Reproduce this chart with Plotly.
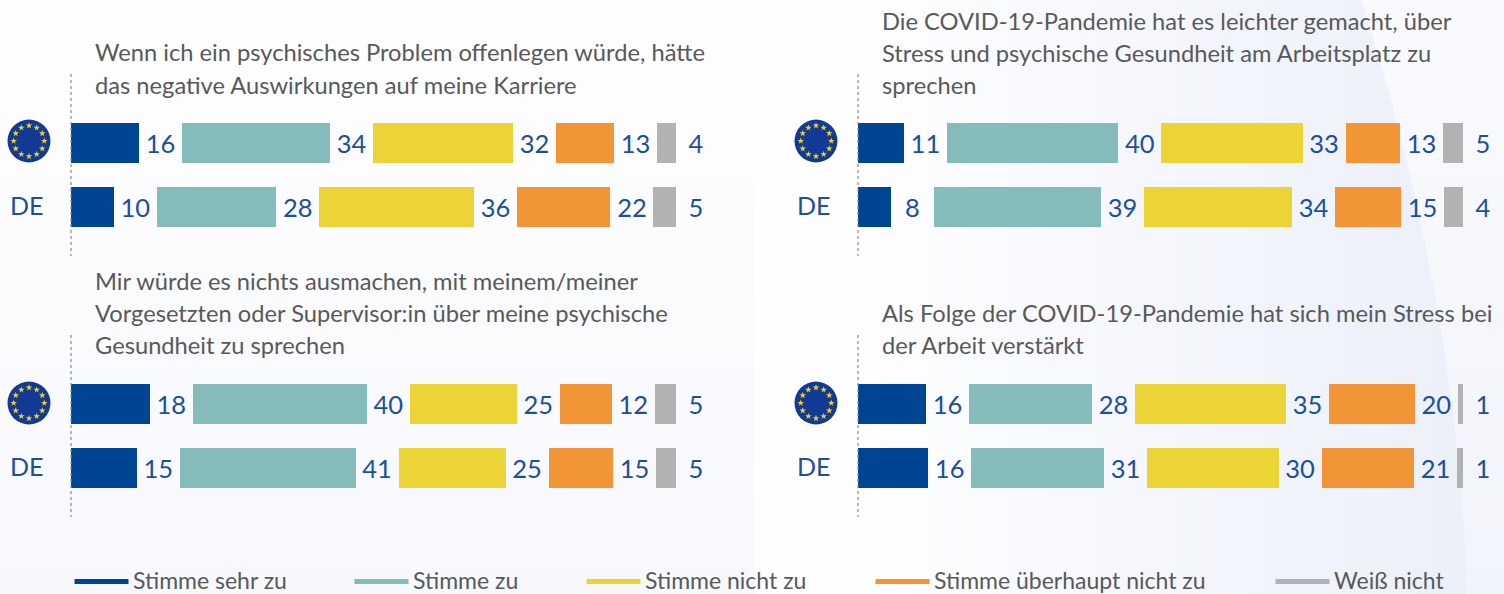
import math
import urllib.parse
import plotly.graph_objects as go

categories = ["EU", "DE"]
answers = ["Stimme sehr zu", "Stimme zu", "Stimme nicht zu", "Stimme überhaupt nicht zu", "Weiß nicht"]
colors = ["#004494", "#85bbbb", "#edd436", "#f29537", "#b2b2b2"]

titles = [
    ["Wenn ich ein psychisches Problem offenlegen würde, hätte", "das negative Auswirkungen auf meine Karriere"],
    ["Die COVID-19-Pandemie hat es leichter gemacht, über", "Stress und psychische Gesundheit am Arbeitsplatz zu", "sprechen"],
    ["Mir würde es nichts ausmachen, mit meinem/meiner", "Vorgesetzten oder Supervisor:in über meine psychische", "Gesundheit zu sprechen"],
    ["Als Folge der COVID-19-Pandemie hat sich mein Stress bei", "der Arbeit verstärkt"],
]

karriere_eu = [15.7, 34.2, 32.3, 13.4, 4.4]
karriere_de = [9.9, 27.6, 35.7, 21.6, 5.2]
covid_leichter_eu = [10.6, 39.6, 32.6, 12.6, 4.6]
covid_leichter_de = [7.6, 38.6, 34.2, 15.2, 4.4]
vorgesetzte_eu = [18.2, 40.2, 24.7, 12.0, 4.9]
vorgesetzte_de = [15.2, 40.6, 24.7, 14.9, 4.6]
covid_stress_eu = [15.7, 28.4, 34.9, 19.8, 1.2]
covid_stress_de = [16.2, 30.7, 30.4, 21.3, 1.4]

panels = [
    (karriere_eu, karriere_de),
    (covid_leichter_eu, covid_leichter_de),
    (vorgesetzte_eu, vorgesetzte_de),
    (covid_stress_eu, covid_stress_de),
]

W, H = 1504, 594
PX = 4.33
GAP = 43 / PX
LAST_GAP = 40 / PX
BLUE = "#1d4f9c"
GREY = "#58595b"
FONT = "Lato"

# pixel layout: x start, x end, band top, band bottom, title x, title first line y, dotted top, dotted bottom
geo = [
    (71, 719, 111.5, 238.5, 95, 52.5, 74, 256),
    (858, 1504, 111.5, 238.5, 882, 21, 74, 256),
    (71, 719, 372, 500, 95, 280.5, 335, 517),
    (858, 1504, 372, 500, 882, 312.5, 335, 517),
]

fig = go.Figure()
annotations = []
shapes = []
layout_axes = {}

for i, ((eu, de), (x0, x1, yt, yb, tx, ty, dt, db)) in enumerate(zip(panels, geo)):
    n = "" if i == 0 else str(i + 1)
    xa, ya = f"x{n}", f"y{n}"
    layout_axes[f"xaxis{n}"] = dict(domain=[x0 / W, x1 / W], range=[0, (x1 - x0) / PX], visible=False, fixedrange=True, anchor=ya)
    layout_axes[f"yaxis{n}"] = dict(domain=[1 - yb / H, 1 - yt / H], type="category", categoryorder="array",
                                    categoryarray=categories, autorange="reversed", visible=False, fixedrange=True, anchor=xa)
    for k, name in enumerate(answers):
        vals = [eu[k], de[k]]
        g = LAST_GAP if k == len(answers) - 1 else GAP
        fig.add_bar(x=vals, y=categories, orientation="h", name=name, marker=dict(color=colors[k], line=dict(width=0)),
                    xaxis=xa, yaxis=ya, showlegend=False, hoverinfo="x+name")
        fig.add_bar(x=[g, g], y=categories, orientation="h", marker=dict(color="rgba(0,0,0,0)", line=dict(width=0)),
                    text=[str(round(v)) for v in vals], textposition="inside", insidetextanchor="middle", textangle=0,
                    constraintext="none", cliponaxis=False, insidetextfont=dict(family=FONT, size=25.5, color=BLUE),
                    xaxis=xa, yaxis=ya, showlegend=False, hoverinfo="skip")
    annotations.append(dict(xref="paper", x=(x0 - 44.5) / W, xanchor="center", yref=ya, y="DE", yshift=2, text="DE", showarrow=False,
                            font=dict(family=FONT, size=25, color=BLUE)))
    for j, line in enumerate(titles[i]):
        annotations.append(dict(xref="paper", yref="paper", x=tx / W, y=1 - (ty + 32 * j) / H, xanchor="left", yanchor="middle",
                                text=line, showarrow=False, xshift=-2, font=dict(family=FONT, size=23.7, color=GREY)))
    shapes.append(dict(type="line", xref="paper", yref="paper", x0=x0 / W, x1=x0 / W, y0=1 - dt / H, y1=1 - db / H,
                       line=dict(color="#8a8a8a", width=1.2, dash="dot")))

# overlay axes in pixels for the EU flags
layout_axes["xaxis5"] = dict(domain=[0, 1], range=[0, W], visible=False, fixedrange=True, anchor="y5")
layout_axes["yaxis5"] = dict(domain=[0, 1], range=[H, 0], visible=False, fixedrange=True, anchor="x5")
sx, sy = [], []
for cx, cy in [(29, 141), (816, 141), (29, 403), (816, 403)]:
    shapes.append(dict(type="circle", xref="x5", yref="y5", x0=cx - 21.5, x1=cx + 21.5, y0=cy - 21.5, y1=cy + 21.5,
                       fillcolor="#123a94", line=dict(width=0), layer="below"))
    for s in range(12):
        a = math.radians(30 * s)
        sx.append(cx + 15.3 * math.cos(a))
        sy.append(cy + 15.3 * math.sin(a))
fig.add_scatter(x=sx, y=sy, mode="markers", xaxis="x5", yaxis="y5", showlegend=False, hoverinfo="skip",
                marker=dict(symbol="star", size=5, color="#f4d22a", line=dict(width=0)))

# legend row
legend_x = [74, 354, 586, 875, 1275]
for name, col, lx in zip(answers, colors, legend_x):
    shapes.append(dict(type="line", xref="paper", yref="paper", x0=(lx + 0.5) / W, x1=(lx + 54.5) / W, y0=1 - 581.5 / H, y1=1 - 581.5 / H,
                       line=dict(color=col, width=5)))
    annotations.append(dict(xref="paper", yref="paper", x=(lx + 59) / W, y=1 - 580 / H, xanchor="left", yanchor="middle", xshift=-2,
                            text=name, showarrow=False, font=dict(family=FONT, size=23, color=GREY)))

bg = """<svg xmlns='http://www.w3.org/2000/svg' width='1504' height='594'>
<defs>
<linearGradient id='a' x1='0' y1='0' x2='0' y2='1'><stop offset='0' stop-color='#fefeff'/><stop offset='1' stop-color='#f7f8fc'/></linearGradient>
<linearGradient id='b' gradientUnits='userSpaceOnUse' x1='850' y1='0' x2='1440' y2='0'><stop offset='0' stop-color='#fefeff'/><stop offset='1' stop-color='#ecf0f9'/></linearGradient>
<linearGradient id='c' x1='0' y1='0' x2='0' y2='1'><stop offset='0' stop-color='#f9fafd'/><stop offset='1' stop-color='#f1f4fa'/></linearGradient>
</defs>
<rect width='754' height='594' fill='url(#a)'/>
<rect x='754' width='750' height='594' fill='url(#b)'/>
<path d='M1361 0H1504V594H1467C1462 400 1420 180 1361 0Z' fill='url(#c)'/>
</svg>"""
images = [dict(source="data:image/svg+xml," + urllib.parse.quote(bg), xref="paper", yref="paper", x=0, y=1, sizex=1, sizey=1,
               xanchor="left", yanchor="top", sizing="stretch", layer="below")]

fig.update_layout(width=W, height=H, margin=dict(l=0, r=0, t=0, b=0), barmode="stack", bargap=0.37,
                  paper_bgcolor="#fcfcfe", plot_bgcolor="rgba(0,0,0,0)", showlegend=False,
                  annotations=annotations, shapes=shapes, images=images, font=dict(family=FONT), **layout_axes)

fig.write_html("out.html", config=dict(displayModeBar=False),
               post_script="document.body.style.margin='0';document.body.style.overflow='hidden';")
